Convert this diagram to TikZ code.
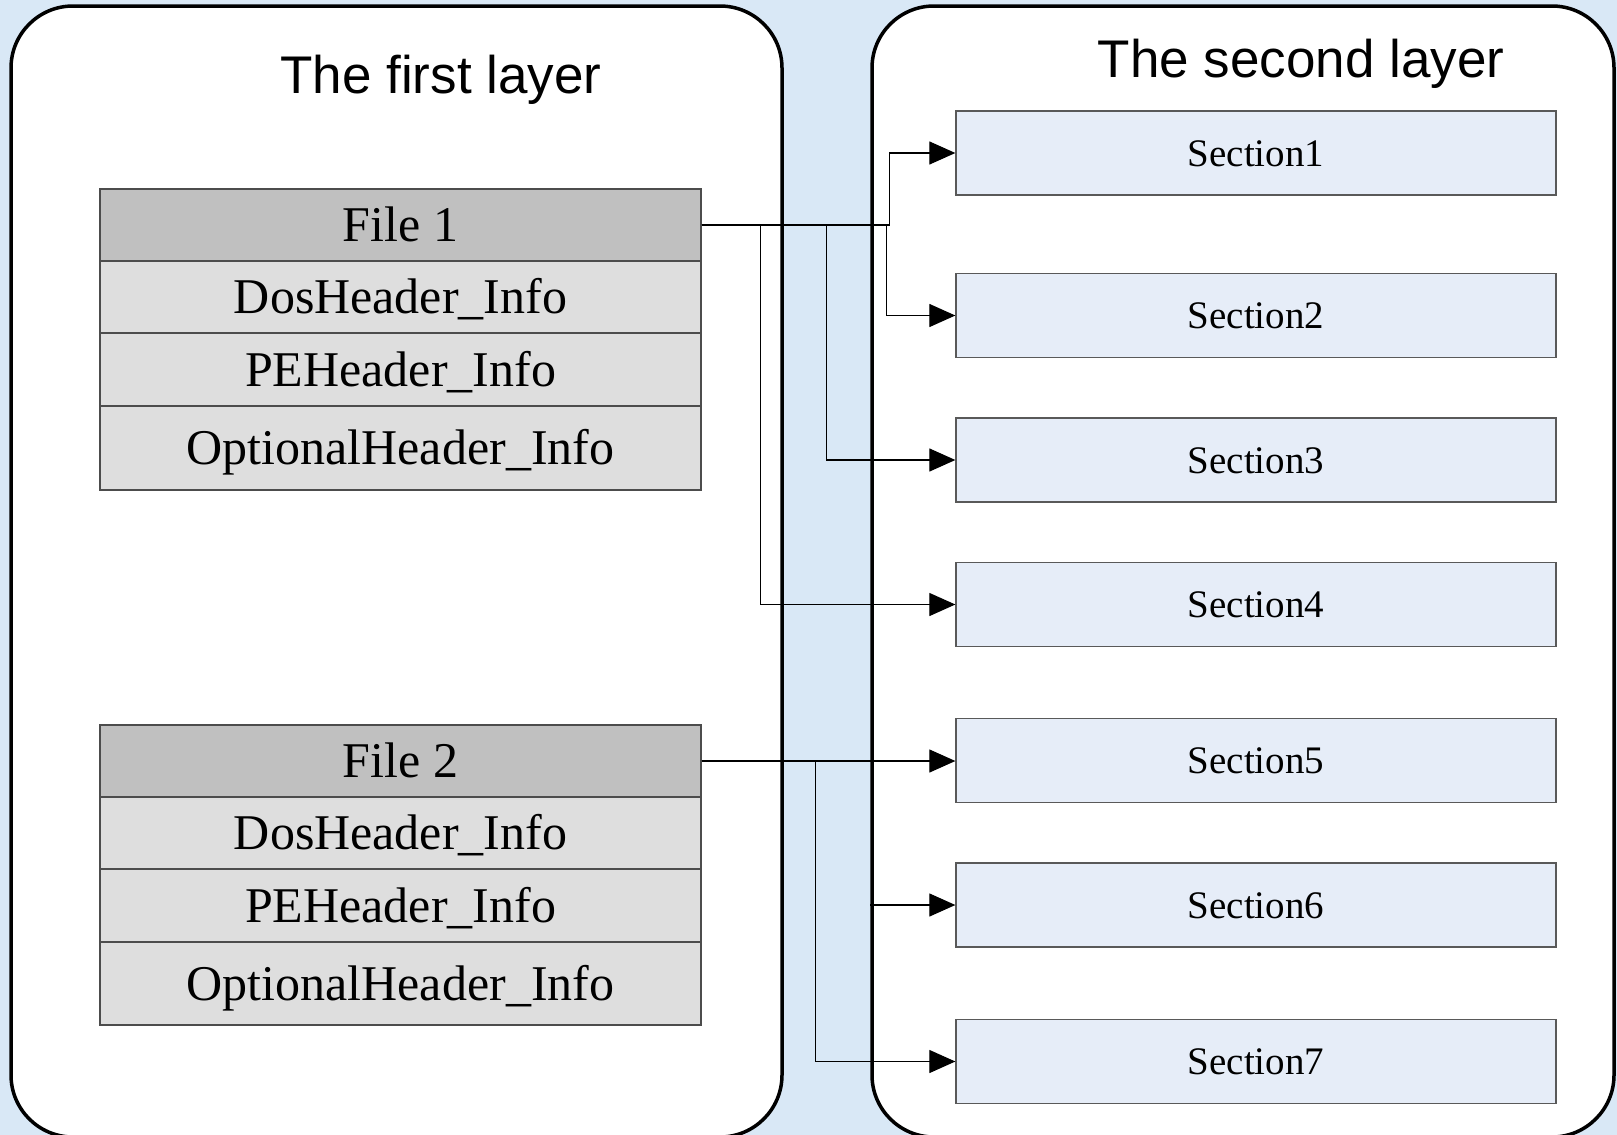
\documentclass[tikz,border=0pt]{standalone}
\usepackage{fontspec}
\setmainfont{Liberation Serif}
\newfontfamily\headfont{Liberation Sans}
\usetikzlibrary{arrows.meta}
\definecolor{bgblue}{RGB}{217,232,246}
\definecolor{secfill}{RGB}{230,237,248}
\definecolor{headfill}{RGB}{192,192,192}
\definecolor{rowfill}{RGB}{222,222,222}
\begin{document}
\begin{tikzpicture}[x=1pt,y=-1pt,
  panel/.style={draw=black, line width=3.5pt, fill=white, rounded corners=62pt, inner sep=0pt},
  layertitle/.style={font=\headfont\fontsize{53}{60}\selectfont, inner sep=0pt, anchor=base},
  rowbox/.style={draw=black!70, line width=1.3pt, fill=rowfill, minimum width=601pt, inner sep=0pt,
    text height=33pt, text depth=0pt, font=\fontsize{50}{60}\selectfont},
  filehead/.style={rowbox, fill=headfill},
  secbox/.style={draw=black!65, line width=1.3pt, fill=secfill, minimum width=600pt, minimum height=84pt,
    inner sep=0pt, text height=26pt, text depth=0pt, font=\fontsize{39}{45}\selectfont},
  conn/.style={draw=black, line width=1.2pt, -{Triangle[length=26pt,width=23pt]}}
]
\useasboundingbox (0,0) rectangle (1617,1135);
\clip (0,0) rectangle (1617,1135);
\fill[bgblue] (0,0) rectangle (1617,1135);

% the two layers
\node[panel, minimum width=771pt, minimum height=1131pt] (p1) at (396.5,571.5) {};
\node[panel, minimum width=742pt, minimum height=1131pt] (p2) at (1243,571.5) {};
\node[layertitle] (t1) at (441,93) {The first layer};
\node[layertitle] (t2) at (1301,77) {The second layer};

% file 1
\node[filehead, minimum height=72pt] (f1) at (400.5,225) {File 1};
\node[rowbox, minimum height=72pt] (f1a) at (400.5,297) {DosHeader\_Info};
\node[rowbox, minimum height=73pt] (f1b) at (400.5,369.5) {PEHeader\_Info};
\node[rowbox, minimum height=84pt] (f1c) at (400.5,448) {OptionalHeader\_Info};

% file 2
\node[filehead, minimum height=72pt] (f2) at (400.5,761) {File 2};
\node[rowbox, minimum height=72pt] (f2a) at (400.5,833) {DosHeader\_Info};
\node[rowbox, minimum height=73pt] (f2b) at (400.5,905.5) {PEHeader\_Info};
\node[rowbox, minimum height=83pt] (f2c) at (400.5,983.5) {OptionalHeader\_Info};

% sections
\node[secbox] (s1) at (1256,153) {Section1};
\node[secbox] (s2) at (1256,315.5) {Section2};
\node[secbox] (s3) at (1256,460) {Section3};
\node[secbox] (s4) at (1256,604.5) {Section4};
\node[secbox] (s5) at (1256,760.5) {Section5};
\node[secbox] (s6) at (1256,905) {Section6};
\node[secbox] (s7) at (1256,1061.5) {Section7};

% connectors
\draw[conn] (f1.east) -- ++(188,0) |- (s1.west);
\draw[conn] (f1.east) -- ++(185,0) |- (s2.west);
\draw[conn] (f1.east) -- ++(125,0) |- (s3.west);
\draw[conn] (f1.east) -- ++(59,0) |- (s4.west);
\draw[conn] (f2.east) -- (f2.east -| s5.west);
\coordinate (g6) at (p2.west |- s6.west);
\draw[conn] (g6) -- (s6.west);
\draw[conn] (f2.east) -- ++(114,0) |- (s7.west);
\end{tikzpicture}
\end{document}
